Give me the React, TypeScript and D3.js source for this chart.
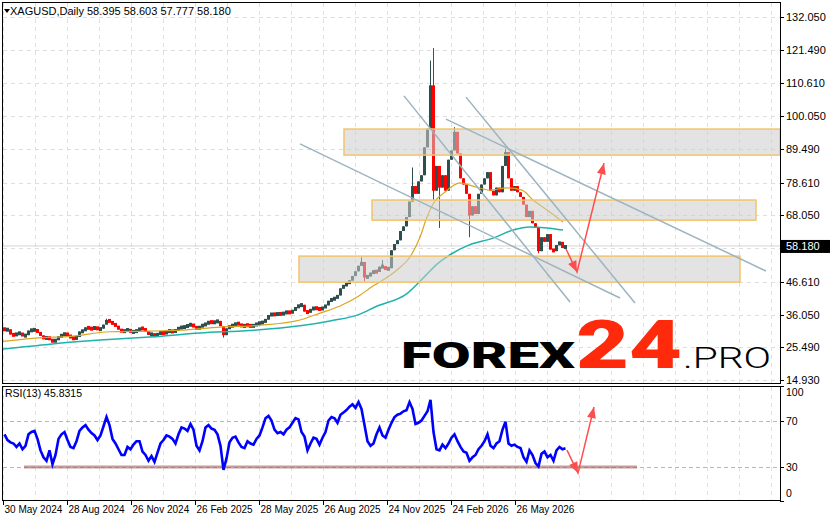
import * as d3 from "d3";

// XAGUSD daily, one value per 3 bars
const closes = [
  31.0, 31.3, 29.6, 29.4, 29.9, 30.1, 29.1, 29.4, 30.9, 31.0,
  31.2, 30.3, 29.3, 28.1, 28.9, 27.9, 27.3, 27.9, 28.9, 29.5,
  29.9, 29.3, 28.6, 28.2, 28.8, 30.6, 30.7, 31.9, 31.6, 31.4,
  32.0, 31.2, 31.5, 32.8, 34.3, 33.7, 33.0, 32.4, 31.2, 30.5,
  30.9, 31.2, 30.4, 30.5, 30.9, 31.6, 31.5, 30.6, 29.6, 29.7,
  29.1, 29.9, 30.3, 29.9, 30.6, 30.8, 30.4, 31.1, 31.8, 31.9,
  32.1, 32.6, 32.9, 32.1, 31.4, 32.2, 32.7, 33.0, 33.8, 33.4,
  33.7, 34.0, 32.3, 29.4, 31.6, 32.3, 32.6, 33.2, 33.0, 32.1,
  32.7, 32.5, 32.3, 32.5, 33.2, 33.3, 33.6, 34.4, 35.9, 36.2,
  36.0, 36.4, 36.1, 36.6, 36.9, 36.6, 37.3, 38.4, 39.0, 39.2,
  37.0, 36.7, 37.8, 38.2, 38.0, 37.7, 38.3, 39.0, 40.5, 41.0,
  41.3, 42.2, 44.5, 45.5, 46.0, 47.0, 48.5, 50.0, 51.8, 53.0,
  48.0, 48.4, 49.5, 50.0, 49.8, 51.5, 51.5, 50.6, 51.0, 56.8,
  58.8, 60.0, 63.0, 64.5, 67.5, 72.5, 77.5, 75.0, 79.0, 81.0,
  90.0, 96.0, 110.0, 76.0, 84.0, 77.0, 81.0, 76.0, 86.0, 89.0,
  95.0, 88.0, 80.0, 78.0, 75.0, 68.0, 71.0, 68.5, 75.0, 78.0,
  80.0, 82.0, 76.0, 74.5, 77.0, 75.5, 84.0, 88.5, 80.0, 76.0,
  77.5, 75.5, 74.0, 71.5, 67.5, 69.5, 65.5, 64.0, 56.5, 61.0,
  59.5, 62.0, 57.0, 56.5, 58.5, 59.5, 57.5, 58.18,
];
const firstOpen = 31.6;

// notable wicks [group, price]
const wickHighs: [number, number][] = [
  [34, 34.7], [119, 54.5], [126, 53.6], [136, 83.5], [142, 118], [143, 122], [150, 96.5], [167, 89.5],
];
const wickLows: [number, number][] = [
  [73, 28.6], [120, 46.8], [143, 73], [145, 64], [155, 61], [178, 55.8],
];

// RSI(13), one value per 3 bars
const rsi = [
  58, 53, 51, 50, 47, 50, 45, 48, 58, 60,
  61, 54, 44, 38, 35, 44, 32, 40, 54, 58,
  60, 53, 47, 46, 52, 61, 64, 66, 62, 59,
  57, 53, 57, 65, 73, 66, 54, 50, 45, 40,
  40, 47, 45, 49, 52, 52, 43, 40, 35, 39,
  34, 42, 50, 53, 57, 56, 54, 50, 58, 64,
  63, 61, 67, 62, 48, 44, 52, 64, 66, 63,
  62, 58, 48, 27, 37, 51, 55, 56, 51, 47,
  46, 52, 50, 49, 54, 57, 64, 72, 74, 70,
  62, 59, 60, 58, 62, 64, 68, 72, 71, 60,
  56, 44, 50, 55, 54, 49, 55, 60, 70, 73,
  72, 68, 75, 77, 79, 82, 84, 81, 86, 80,
  66, 52, 48, 50, 58, 64, 57, 55, 62, 68,
  73, 75, 76, 78, 79, 86, 80, 67, 68, 70,
  74, 78, 88, 60, 45, 44, 49, 46, 50, 55,
  58, 52, 47, 43, 42, 35, 38, 40, 45, 48,
  52, 58, 48, 46, 50, 52, 62, 69, 50, 48,
  49, 47, 46, 38, 34, 44, 40, 33, 30, 41,
  43, 38, 40, 35, 44, 47, 45, 45.83,
];

// moving averages [bar, price]
const maFast: [number, number][] = [
  [0, 27.4], [40, 28.6], [64, 28.9], [107, 30.5], [147, 30.7], [177, 31.0], [217, 32.0],
  [257, 32.6], [297, 34.3], [317, 36.5], [337, 38.8], [357, 42.3], [367, 44.6], [394, 50.4],
  [407, 54.6], [417, 61.0], [424, 67.5], [431, 72.2], [441, 75.3], [457, 78.5], [470, 77.5],
  [487, 76.2], [504, 76.9], [519, 76.2], [530, 73.0], [544, 69.8], [560, 65.9],
];
const maSlow: [number, number][] = [
  [0, 24.9], [47, 26.5], [97, 27.8], [147, 28.8], [197, 30.1], [247, 30.9], [297, 32.4],
  [327, 34.0], [357, 36.2], [372, 38.5], [404, 42.8], [424, 49.1], [434, 52.3], [450, 55.9],
  [464, 58.2], [490, 60.7], [510, 63.3], [527, 64.3], [544, 64.0], [560, 63.3],
];

const priceTicks = [132.05, 121.49, 110.61, 100.05, 89.49, 78.61, 68.05, 57.49, 46.61, 36.05, 25.49, 14.93];
const dateLabels = [
  "30 May 2024", "28 Aug 2024", "26 Nov 2024", "26 Feb 2025", "28 May 2025",
  "26 Aug 2025", "24 Nov 2025", "24 Feb 2026", "26 May 2026",
];
const rsiLevels = [100, 70, 30, 0];

// drawn objects: zones [fromBar, toBar, top, bottom], lines [bar1, p1, bar2, p2]
const zones: [number, number, number, number][] = [
  [341, 777, 95.9, 87.5],
  [369, 753, 73.0, 66.5],
  [296, 737, 54.9, 46.5],
];
const trendLines: [number, number, number, number][] = [
  [297, 91.1, 617, 41.4],
  [401, 106.6, 567, 40.1],
  [463, 106.2, 632, 39.8],
  [443, 99.1, 763, 50.1],
];
const priceArrow: [number, number][] = [[563, 57.2], [574, 49.8], [601, 84.9]];
const rsiArrow: [number, number][] = [[564, 44.3], [575, 24.3], [591, 81.7]];
const rsiFloor: [number, number, number] = [21, 634, 29.6];

const lastPrice = 58.18;
const headerText = "XAGUSD,Daily";
const ohlcText = "58.395 58.603 57.777 58.180";
const rsiText = "RSI(13) 45.8315";

const BARS = 3;
const FONT = "'Liberation Sans', Arial, sans-serif";

function arrowHead(p: [number, number], q: [number, number], len = 11, half = 4.5) {
  const dx = q[0] - p[0];
  const dy = q[1] - p[1];
  const l = Math.hypot(dx, dy);
  const ux = dx / l;
  const uy = dy / l;
  const bx = q[0] - ux * len;
  const by = q[1] - uy * len;
  return `${q[0]},${q[1]} ${bx - uy * half},${by + ux * half} ${bx + uy * half},${by - ux * half}`;
}

export default function App() {
  const x = d3.scaleLinear().domain([0, 777]).range([3, 780]);
  const y = d3.scaleLinear().domain([14.93, 132.05]).range([380, 17]);
  const ry = d3.scaleLinear().domain([0, 100]).range([501, 386]);

  const hiMap = new Map(wickHighs);
  const loMap = new Map(wickLows);

  const candles = closes.map((c, i) => {
    const o = i === 0 ? firstOpen : closes[i - 1];
    const hi = Math.max(o, c, hiMap.get(i) ?? -Infinity);
    const lo = Math.min(o, c, loMap.get(i) ?? Infinity);
    return { i, o, c, hi, lo, up: c >= o };
  });

  const maLine = d3
    .line<[number, number]>()
    .x((d) => x(d[0]))
    .y((d) => y(d[1]))
    .curve(d3.curveMonotoneX);

  const rsiLine = d3
    .line<number>()
    .x((_, i) => x(i * BARS + 1.5))
    .y((d) => ry(d));

  const gridX = d3.range(0, 777, 32);

  const pArrow = priceArrow.map((d) => [x(d[0]), y(d[1])] as [number, number]);
  const rArrow = rsiArrow.map((d) => [x(d[0]), ry(d[1])] as [number, number]);

  return (
    <svg
      width={831}
      height={521}
      style={{ position: "absolute", left: 0, top: 0 }}
      fontFamily={FONT}
    >
      <defs>
        <clipPath id="main">
          <rect x={2} y={2} width={778} height={382} />
        </clipPath>
        <clipPath id="sub">
          <rect x={2} y={386} width={778} height={115} />
        </clipPath>
      </defs>
      <rect width={831} height={521} fill="#fff" />

      {/* grid */}
      <g stroke="#dedede" strokeDasharray="4,4" strokeWidth={1}>
        {priceTicks.map((t) => (
          <line key={t} x1={3} x2={780} y1={Math.round(y(t)) + 0.5} y2={Math.round(y(t)) + 0.5} />
        ))}
        {gridX.map((b) => (
          <line key={"m" + b} x1={Math.round(x(b)) + 0.5} x2={Math.round(x(b)) + 0.5} y1={3} y2={383} />
        ))}
        {gridX.map((b) => (
          <line key={"r" + b} x1={Math.round(x(b)) + 0.5} x2={Math.round(x(b)) + 0.5} y1={387} y2={500} />
        ))}
      </g>

      {/* last price line */}
      <line x1={3} x2={780} y1={y(lastPrice)} y2={y(lastPrice)} stroke="#d4d4d4" strokeWidth={1} />

      <g clipPath="url(#main)">
        {/* candles */}
        {candles.map((d) => {
          const x0 = x(d.i * BARS);
          const yTop = y(Math.max(d.o, d.c));
          const yBot = y(Math.min(d.o, d.c));
          const h = Math.max(4, yBot - yTop);
          const mid = (yTop + yBot) / 2;
          const col = d.up ? "#2f4f4f" : "#ff0000";
          return (
            <g key={d.i}>
              <line x1={x0 + 1.5} x2={x0 + 1.5} y1={y(d.hi)} y2={y(d.lo)} stroke={col} strokeWidth={1} />
              <rect x={x0} y={h > yBot - yTop ? mid - h / 2 : yTop} width={BARS} height={h} fill={col} />
            </g>
          );
        })}

        {/* moving averages */}
        <path d={maLine(maSlow) ?? ""} fill="none" stroke="#20b2aa" strokeWidth={1.5} />
        <path d={maLine(maFast) ?? ""} fill="none" stroke="#daa520" strokeWidth={1.2} />

        {/* zones */}
        {zones.map((z, k) => (
          <rect
            key={k}
            x={x(z[0])}
            y={y(z[2])}
            width={x(z[1]) - x(z[0])}
            height={y(z[3]) - y(z[2])}
            fill="#cccccc"
            fillOpacity={0.55}
            stroke="#f2c46d"
            strokeWidth={1.5}
          />
        ))}

        {/* trend lines */}
        {trendLines.map((l, k) => (
          <line
            key={k}
            x1={x(l[0])}
            y1={y(l[1])}
            x2={x(l[2])}
            y2={y(l[3])}
            stroke="#9db4c0"
            strokeWidth={1.5}
          />
        ))}

        {/* forecast arrow */}
        <polyline points={pArrow.map((p) => p.join(",")).join(" ")} fill="none" stroke="#ff4d4d" strokeWidth={1.5} />
        <polygon points={arrowHead(pArrow[0], pArrow[1])} fill="#ff4d4d" />
        <polygon points={arrowHead(pArrow[1], pArrow[2])} fill="#ff4d4d" />
      </g>

      {/* watermark */}
      <g>
        <text x={401} y={368} fontFamily="Roboto, 'Open Sans', sans-serif" fontWeight={900} fontSize={37} textLength={174} lengthAdjust="spacingAndGlyphs" fill="#000">
          FOREX
        </text>
        <text x={576} y={368} fontFamily="Roboto, 'Open Sans', sans-serif" fontWeight={900} fontSize={67} textLength={106} lengthAdjust="spacingAndGlyphs" fill="#ff2a0c">
          24
        </text>
        <text x={683} y={368} fontFamily="Roboto, Lato, sans-serif" fontWeight={300} fontSize={30} textLength={88} lengthAdjust="spacingAndGlyphs" fill="#000">
          .PRO
        </text>
      </g>

      {/* RSI panel */}
      <g stroke="#b8b8b8" strokeDasharray="4,3" strokeWidth={1}>
        {[70, 30].map((v) => (
          <line key={v} x1={3} x2={780} y1={Math.round(ry(v)) + 0.5} y2={Math.round(ry(v)) + 0.5} />
        ))}
      </g>
      <g clipPath="url(#sub)">
        <line x1={x(rsiFloor[0])} x2={x(rsiFloor[1])} y1={ry(rsiFloor[2])} y2={ry(rsiFloor[2])} stroke="#a05a5a" strokeOpacity={0.6} strokeWidth={3} />
        <path d={rsiLine(rsi) ?? ""} fill="none" stroke="#0000ff" strokeWidth={2.6} strokeLinejoin="miter" />
        <polyline points={rArrow.map((p) => p.join(",")).join(" ")} fill="none" stroke="#ff4d4d" strokeWidth={1.5} />
        <polygon points={arrowHead(rArrow[0], rArrow[1])} fill="#ff4d4d" />
        <polygon points={arrowHead(rArrow[1], rArrow[2])} fill="#ff4d4d" />
      </g>

      {/* frames */}
      <g fill="none" stroke="#000" strokeWidth={1}>
        <rect x={2.5} y={2.5} width={778} height={381} />
        <rect x={2.5} y={386.5} width={778} height={114} />
      </g>

      {/* header */}
      <polygon points="4,9 10,9 7,13" fill="#000" />
      <text x={10} y={15} fontSize={11} fill="#000">{headerText}</text>
      <text x={87} y={15} fontSize={11} fill="#000">{ohlcText}</text>
      <text x={5} y={397} fontSize={10.5} fill="#000">{rsiText}</text>

      {/* price axis */}
      <g fontSize={11} fill="#000">
        {priceTicks.map((t) => (
          <g key={t}>
            <line x1={780} x2={784} y1={Math.round(y(t)) + 0.5} y2={Math.round(y(t)) + 0.5} stroke="#000" />
            {t !== 57.49 && (
              <text x={786} y={y(t) + 4}>{t.toFixed(3)}</text>
            )}
          </g>
        ))}
      </g>
      <rect x={781} y={y(lastPrice) - 6} width={49} height={13} fill="#000" />
      <text x={786} y={y(lastPrice) + 4} fontSize={11} fill="#fff">{lastPrice.toFixed(3)}</text>

      {/* RSI axis */}
      <g fontSize={10.5} fill="#000">
        {rsiLevels.map((v) => {
          const yy = Math.min(Math.max(ry(v), 392), 493);
          return (
            <g key={v}>
              <line x1={780} x2={784} y1={Math.round(ry(v)) + 0.5} y2={Math.round(ry(v)) + 0.5} stroke="#000" />
              <text x={786} y={yy + 4}>{v}</text>
            </g>
          );
        })}
      </g>

      {/* date axis */}
      <g fontSize={10} fill="#000">
        {dateLabels.map((lab, k) => {
          const xx = Math.round(x(k * 64)) + 0.5;
          return (
            <g key={lab}>
              <line x1={xx} x2={xx} y1={501} y2={505} stroke="#000" />
              <text x={xx + 1} y={513}>{lab}</text>
            </g>
          );
        })}
      </g>
    </svg>
  );
}
